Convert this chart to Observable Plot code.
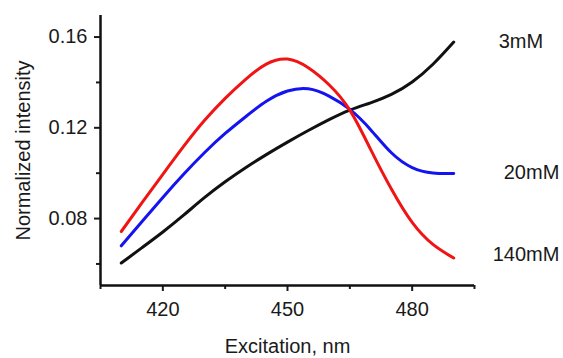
<!DOCTYPE html>
<html>
<head>
<meta charset="utf-8">
<script src="https://cdn.jsdelivr.net/npm/d3@7"></script>
<script src="https://cdn.jsdelivr.net/npm/@observablehq/plot@0.6"></script>
<style>
  html, body { margin: 0; padding: 0; background: #fff; }
  #chart svg { display: block; }
</style>
</head>
<body>
<div id="chart"></div>
<script>
const wavelengths = [410, 415, 420, 425, 430, 435, 440, 445, 450, 455, 460, 465, 470, 475, 480, 485, 490];
const black3mM   = [0.0604, 0.0672, 0.0741, 0.0815, 0.0892, 0.0962, 0.1025, 0.1083, 0.1137, 0.1188, 0.1236, 0.1278, 0.1310, 0.1347, 0.1402, 0.1480, 0.1578];
const blue20mM   = [0.0680, 0.0787, 0.0893, 0.0995, 0.1090, 0.1175, 0.1250, 0.1318, 0.1362, 0.1372, 0.1340, 0.1281, 0.1192, 0.1090, 0.1025, 0.1001, 0.0999];
const red140mM   = [0.0743, 0.0870, 0.0995, 0.1118, 0.1232, 0.1330, 0.1415, 0.1482, 0.1503, 0.1465, 0.1390, 0.1278, 0.1105, 0.0930, 0.0783, 0.0686, 0.0626];
const seriesNames = ["3mM", "20mM", "140mM"];
const seriesColors = ["#111111", "#1414f0", "#f01414"];
const xTicks = [420, 450, 480];
const xMinorTicks = [405, 435, 465, 495];
const yTicks = [0.08, 0.12, 0.16];
const yMinorTicks = [0.06, 0.10, 0.14];
const xLabel = "Excitation, nm";
const yLabel = "Normalized intensity";
const xDomain = [405, 495];
const yDomain = [0.0505, 0.1695];

const seriesValues = [black3mM, blue20mM, red140mM];
const rows = [];
seriesNames.forEach((name, i) => {
  wavelengths.forEach((w, j) => rows.push({series: name, x: w, y: seriesValues[i][j]}));
});
const lastOf = name => rows.filter(d => d.series === name).slice(-1);

const font = "'Liberation Sans', Arial, Helvetica, sans-serif";
const textColor = "#1a1a1a";

const plot = Plot.plot({
  width: 563,
  height: 358,
  marginLeft: 100,
  marginRight: 89,
  marginTop: 15,
  marginBottom: 73,
  style: {fontFamily: font, fontSize: "20px", color: textColor, background: "#fff"},
  x: {domain: xDomain},
  y: {domain: yDomain},
  color: {domain: seriesNames, range: seriesColors},
  marks: [
    Plot.axisX({ticks: xTicks, tickSize: 6, tickPadding: 10, strokeWidth: 2, fontSize: 20, label: null}),
    Plot.axisX({ticks: xMinorTicks, tickSize: 4, strokeWidth: 2, tickFormat: () => "", label: null}),
    Plot.axisY({ticks: yTicks, tickSize: 6, tickPadding: 7, strokeWidth: 2, fontSize: 20,
      tickFormat: d3.format(".2f"), label: null}),
    Plot.axisY({ticks: yMinorTicks, tickSize: 4, strokeWidth: 2, tickFormat: () => "", label: null}),
    Plot.ruleX([xDomain[0]], {stroke: "#111", strokeWidth: 2.5}),
    Plot.ruleY([yDomain[0]], {stroke: "#111", strokeWidth: 2.5}),
    Plot.text([xLabel], {frameAnchor: "bottom", text: d => d, dy: 61, lineAnchor: "middle", textAnchor: "middle", fontSize: 20, fill: textColor}),
    Plot.text([yLabel], {frameAnchor: "left", text: d => d, dx: -77, rotate: -90, lineAnchor: "middle", textAnchor: "middle", fontSize: 20, fill: textColor}),
    Plot.line(rows, {x: "x", y: "y", z: "series", stroke: "series", strokeWidth: 3, curve: "natural"}),
    Plot.text(lastOf("3mM"), {x: "x", y: "y", text: "series", textAnchor: "start", dx: 45, dy: 0, fontSize: 20, fill: textColor}),
    Plot.text(lastOf("20mM"), {x: "x", y: "y", text: "series", textAnchor: "start", dx: 50, dy: -1, fontSize: 20, fill: textColor}),
    Plot.text(lastOf("140mM"), {x: "x", y: "y", text: "series", textAnchor: "start", dx: 39, dy: -3, fontSize: 20, fill: textColor})
  ]
});
document.getElementById("chart").appendChild(plot);
</script>
</body>
</html>
